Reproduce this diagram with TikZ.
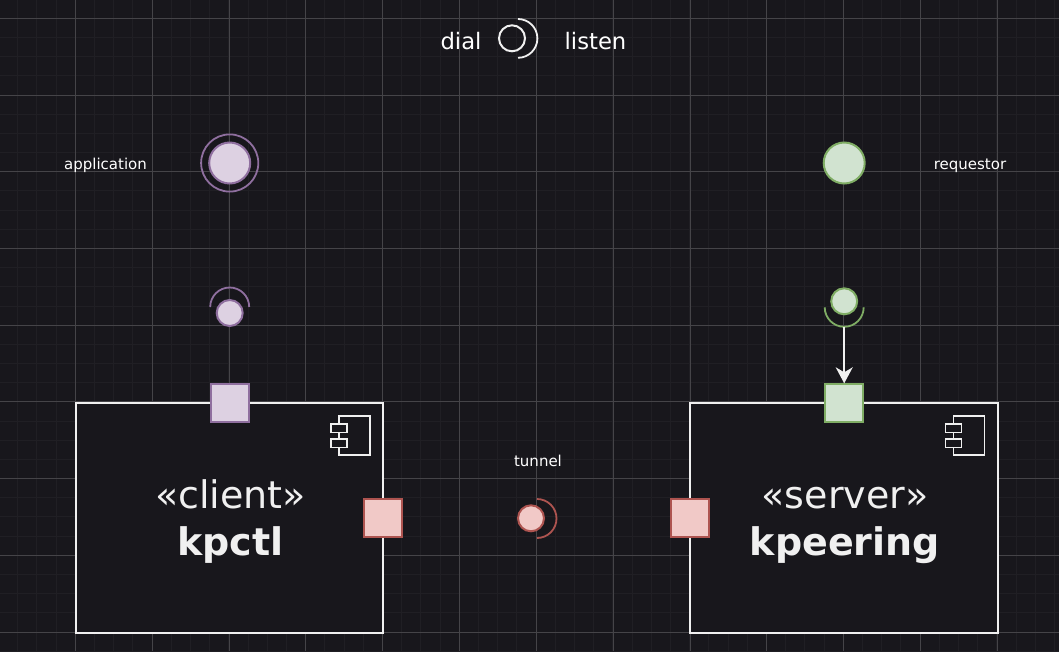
\documentclass[tikz,border=0pt]{standalone}
\usepackage{fontspec}
\setmainfont{DejaVu Sans}
\usetikzlibrary{arrows.meta}
\definecolor{bgc}{HTML}{18171C}
\definecolor{minorc}{HTML}{201F24}
\definecolor{majorc}{HTML}{454448}
\definecolor{boxc}{HTML}{F0F0F0}
\definecolor{purf}{HTML}{DDD1E2}
\definecolor{purd}{HTML}{8F6F9F}
\definecolor{grnf}{HTML}{D1E3D0}
\definecolor{grnd}{HTML}{7FAD64}
\definecolor{redf}{HTML}{F1C9C7}
\definecolor{redd}{HTML}{AE5450}
\tikzset{
  comp/.style={draw=boxc,line width=2pt,fill=bgc,minimum width=307.5pt,minimum height=230pt,inner sep=0pt},
  mini/.style={draw=boxc,line width=1.6pt},
  port/.style={line width=2pt,minimum size=38pt,inner sep=0pt,rectangle},
  ball/.style={line width=2pt,circle,inner sep=0pt},
  sock/.style={line width=1.8pt,line cap=butt},
  lab/.style={text=white,font=\fontsize{15}{18}\selectfont,inner sep=0pt},
  leg/.style={text=white,font=\fontsize{22.7}{26}\selectfont,inner sep=0pt},
  big/.style={text=boxc,font=\fontsize{38}{47}\selectfont,align=center,inner sep=0pt},
  pur/.style={draw=purd,fill=purf},
  grn/.style={draw=grnd,fill=grnf},
  red/.style={draw=redd,fill=redf}
}
\newcommand{\miniicon}[2]{%
  \draw[mini] (#1+8,#2) rectangle (#1+39,#2+39);
  \draw[mini,fill=bgc] (#1,#2+8) rectangle (#1+16,#2+16.5);
  \draw[mini,fill=bgc] (#1,#2+23) rectangle (#1+16,#2+31.5);
}
\begin{document}
\begin{tikzpicture}[x=1pt,y=-1pt]
\useasboundingbox (0,0) rectangle (1059,651);
\fill[bgc] (0,0) rectangle (1059,651);
\foreach \k in {-3,...,55}{
  \draw[minorc,line width=1pt] ({75.3+\k*19.2},0) -- ({75.3+\k*19.2},651);
  \draw[minorc,line width=1pt] (0,{18.3+\k*19.18}) -- (1059,{18.3+\k*19.18});
}
\foreach \k in {-1,...,13}{
  \draw[majorc,line width=1pt] ({75.3+\k*76.85},0) -- ({75.3+\k*76.85},651);
}
\foreach \k in {0,...,8}{
  \draw[majorc,line width=1pt] (0,{18.3+\k*76.72}) -- (1059,{18.3+\k*76.72});
}
% legend
\node[leg,anchor=base] (dial) at (461,49) {dial};
\node[leg,anchor=base] (listen) at (595.5,49) {listen};
\node[ball,draw=boxc,minimum size=26pt] (legball) at (512,38.3) {};
\draw[boxc,line width=1.8pt] (518,19) arc[start angle=90,end angle=-90,radius=19.4pt];
% top-left
\node[lab,anchor=base] (app) at (105.5,169) {application};
\node[ball,pur,minimum size=41pt] (appc) at (229.7,163) {};
\draw[purd,line width=1.8pt] (229.7,163) circle[radius=28.6pt];
% top-right
\node[lab,anchor=base] (req) at (970,169) {requestor};
\node[ball,grn,minimum size=41pt] (reqc) at (844.2,163) {};
% components
\node[comp] (client) at (229.7,518.3) {};
\node[comp] (server) at (844.2,518.3) {};
\miniicon{331}{416}
\miniicon{945.5}{416}
\node[big] (clientt) at (230.5,521.5) {\vphantom{kpg«l}«client»\\\vphantom{kpg«l}\textbf{kpctl}};
\node[big] (servert) at (845,521.5) {\vphantom{kpg«l}«server»\\\vphantom{kpg«l}\textbf{kpeering}};
% ports
\node[port,pur] (p1) at (229.7,403.3) {};
\node[port,grn] (p2) at (844.2,403.3) {};
\node[port,red] (p3) at (383.3,518.3) {};
\node[port,red] (p4) at (690.3,518.3) {};
% interfaces
\node[ball,pur,minimum size=26pt] (i1) at (229.7,313) {};
\draw[sock,purd] (210.2,307) arc[start angle=180,end angle=0,radius=19.5pt];
\node[ball,grn,minimum size=26pt] (i2) at (844.2,301.3) {};
\draw[sock,grnd] (824.7,307.3) arc[start angle=180,end angle=360,radius=19.5pt];
\node[ball,red,minimum size=26pt] (i3) at (531,518.3) {};
\draw[sock,redd] (537,499) arc[start angle=90,end angle=-90,radius=19.5pt];
\node[lab,anchor=base] (tun) at (538,466) {tunnel};
\coordinate (i2b) at (844.2,327);
\draw[boxc,line width=2pt,-{Stealth[length=16pt,width=17pt,inset=5pt]}] (i2b) -- (p2.north);
\end{tikzpicture}
\end{document}
